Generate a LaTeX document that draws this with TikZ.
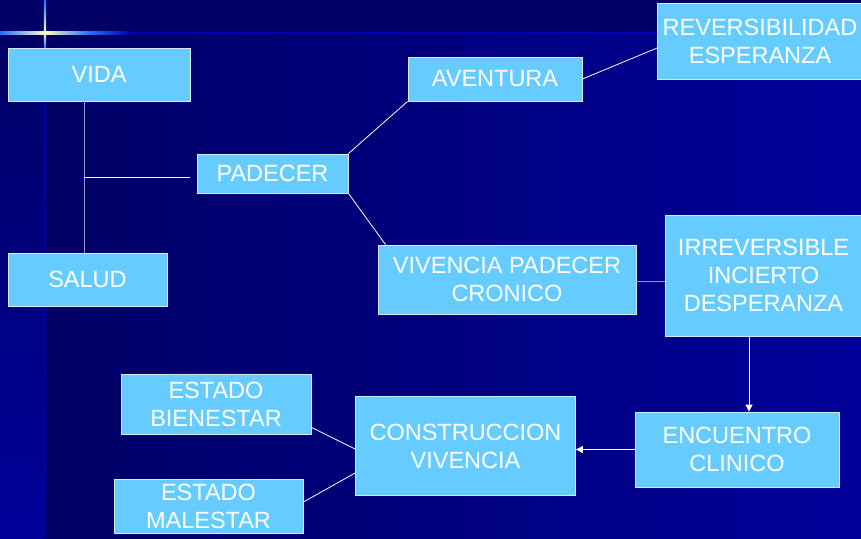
\documentclass[tikz,border=0pt]{standalone}
\usepackage{fontspec}
\setmainfont{Liberation Sans}
\usetikzlibrary{arrows.meta, positioning}
\definecolor{navy}{RGB}{0,0,102}
\definecolor{deepblue}{RGB}{0,0,152}
\definecolor{edgeblue}{RGB}{0,0,175}
\definecolor{boxfill}{RGB}{102,204,255}
\definecolor{boxline}{RGB}{210,235,255}
\definecolor{dimline}{RGB}{150,150,200}
\definecolor{glow}{RGB}{255,255,200}
\definecolor{rayblue}{RGB}{30,110,255}

\begin{document}
\begin{tikzpicture}[
        x=1pt, y=-1pt,
        font=\fontsize{23.5}{28}\selectfont,
        box/.style={draw=boxline, line width=0.8pt, fill=boxfill, text=white, inner sep=0pt, align=center},
        link/.style={white, line width=0.8pt},
        dimlink/.style={dimline, line width=1pt},
        flow/.style={white, line width=0.9pt, -{Triangle[length=7pt, width=7pt]}}
    ]

    % --- Background ---
    \useasboundingbox (0,0) rectangle (861,538);
    \fill[navy] (0,0) rectangle (861,33);
    \shade[left color=navy, right color=deepblue] (44,33) rectangle (861,538);
    \shade[top color=navy, bottom color=deepblue] (0,33) rectangle (44,538);
    \fill[edgeblue] (44,33) rectangle (45,538);
    % glowing cross
    \shade[left color=rayblue, right color=glow] (0,31.8) rectangle (45,34.2);
    \shade[left color=glow, right color=rayblue] (45,31.8) rectangle (90,34.2);
    \shade[left color=rayblue, right color=edgeblue] (90,31.8) rectangle (130,34.2);
    \fill[edgeblue] (130,32) rectangle (861,34);
    \shade[top color=rayblue, bottom color=glow] (43.8,0) rectangle (46.2,33);
    \shade[top color=glow, bottom color=rayblue] (43.8,33) rectangle (46.2,48);

    % --- Nodes ---
    \node[box, minimum width=182pt, minimum height=53pt] (vida) at (99,74.5) {VIDA};
    \node[box, minimum width=159pt, minimum height=53pt] (salud) at (87.5,279.5) {SALUD};
    \node[box, minimum width=151pt, minimum height=39pt] (padecer) at (272.5,173.5) {PADECER};
    \node[box, minimum width=174pt, minimum height=44pt] (aventura) at (495,79) {AVENTURA};
    \node[box, minimum width=205pt, minimum height=76pt] (reversible) at (760,41) {REVERSIBILIDAD\\ESPERANZA};
    \node[box, minimum width=258pt, minimum height=69pt] (vivencia) at (507,279.5) {VIVENCIA PADECER\\CRONICO};
    \node[box, minimum width=197pt, minimum height=121pt] (irreversible) at (763.5,275.5) {IRREVERSIBLE\\INCIERTO\\DESPERANZA};
    \node[box, minimum width=204pt, minimum height=75pt] (encuentro) at (737,449.5) {ENCUENTRO\\CLINICO};
    \node[box, minimum width=220pt, minimum height=99pt] (construccion) at (465.5,446) {CONSTRUCCION\\VIVENCIA};
    \node[box, minimum width=190pt, minimum height=60pt] (bienestar) at (216,404) {ESTADO\\BIENESTAR};
    \node[box, minimum width=189pt, minimum height=54pt] (malestar) at (208.5,506) {ESTADO\\MALESTAR};

    % --- Connections ---
    \coordinate (fork) at ([xshift=-15pt]vida.south);
    \draw[dimlink] (fork) -- (fork |- salud.north);
    \draw[link] ([yshift=-3.5pt]fork |- padecer.west) -- ([xshift=-7pt,yshift=-3.5pt]padecer.west);
    \draw[link] (padecer.north east) -- (aventura.south west);
    \draw[link] (padecer.south east) -- ([xshift=8pt]vivencia.north west);
    \draw[link] (aventura.east) -- ([yshift=-7pt]reversible.west);
    \draw[dimlink] ([yshift=-2pt]vivencia.east) -- ([yshift=-2pt]vivencia.east -| irreversible.west);
    \draw[flow] ([xshift=-14.5pt]irreversible.south) -- ([xshift=-14.5pt]irreversible.south |- encuentro.north);
    \draw[flow] (encuentro.west) -- (encuentro.west -| construccion.east);
    \draw[link] ([yshift=7pt]bienestar.south east) -- ([yshift=-3pt]construccion.west);
    \draw[link] ([yshift=4pt]malestar.east) -- ([yshift=-27pt]construccion.west);

\end{tikzpicture}
\end{document}
